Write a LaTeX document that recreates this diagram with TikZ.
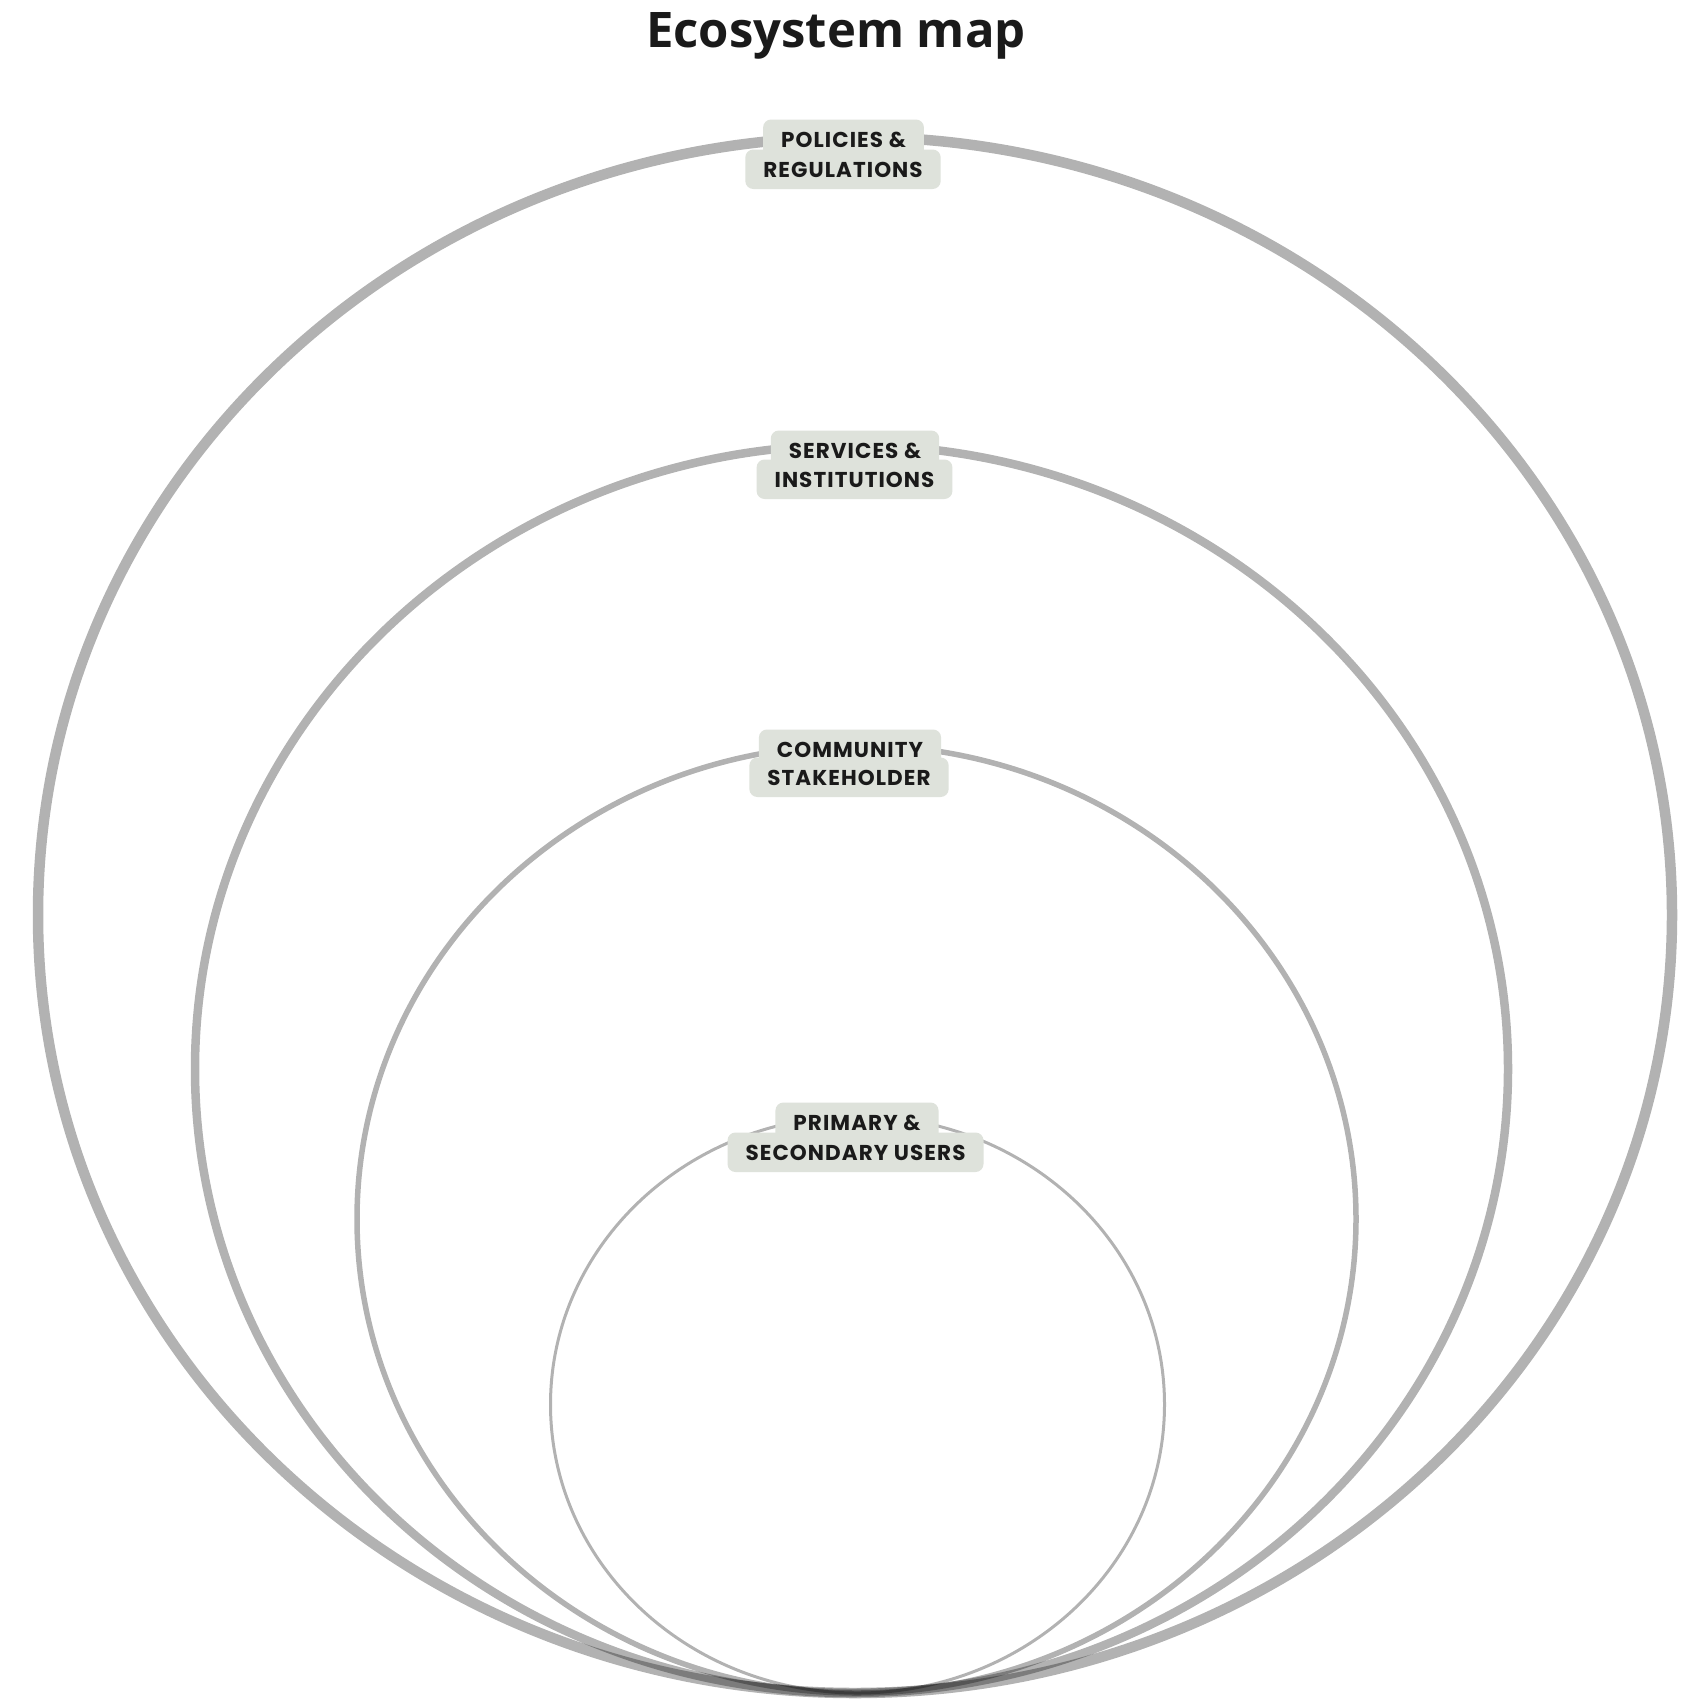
\documentclass[tikz,border=0pt]{standalone}
\usepackage{fontspec}
\newfontfamily\titlefont{Open Sans}
\newfontfamily\labelfont{Poppins}[LetterSpace=5]
\definecolor{labelbg}{RGB}{222,226,219}
\definecolor{ink}{RGB}{26,26,26}
\tikzset{
  ring/.style={draw=black, draw opacity=0.3},
  tag/.style={fill=labelbg, rounded corners=8pt, anchor=base,
    inner xsep=18pt, inner ysep=12pt, text height=15.5pt, text depth=0pt,
    text=ink, font=\labelfont\bfseries\fontsize{21.5}{22}\selectfont},
}
\begin{document}
\begin{tikzpicture}[x=1pt, y=-1pt]
\useasboundingbox (0,0) rectangle (1695,1702);
\fill[white] (0,0) rectangle (1695,1702);

% title
\node[anchor=base, text=ink, font=\titlefont\bfseries\fontsize{49}{58}\selectfont]
  (title) at (836,48) {Ecosystem map};

% nested rings, all touching at the bottom
\draw[ring, line width=10.5pt] (855,915) ellipse [x radius=817pt, y radius=778pt];
\draw[ring, line width=8.5pt] (851.5,1069) ellipse [x radius=656.5pt, y radius=624pt];
\draw[ring, line width=5.5pt] (856.5,1219) ellipse [x radius=499.5pt, y radius=474pt];
\draw[ring, line width=3pt] (857.5,1404.5) ellipse [x radius=307pt, y radius=288.5pt];

% ring labels, one box per line
\node[tag] (pol2) at (843,177) {REGULATIONS};
\node[tag] (pol1) at (843.5,147) {POLICIES \&};

\node[tag] (ser2) at (854.5,487) {INSTITUTIONS};
\node[tag] (ser1) at (855,458) {SERVICES \&};

\node[tag] (com2) at (849,785) {STAKEHOLDER};
\node[tag] (com1) at (850,757) {COMMUNITY};

\node[tag] (usr2) at (855.5,1160) {SECONDARY USERS};
\node[tag] (usr1) at (857,1130) {PRIMARY \&};
\end{tikzpicture}
\end{document}
